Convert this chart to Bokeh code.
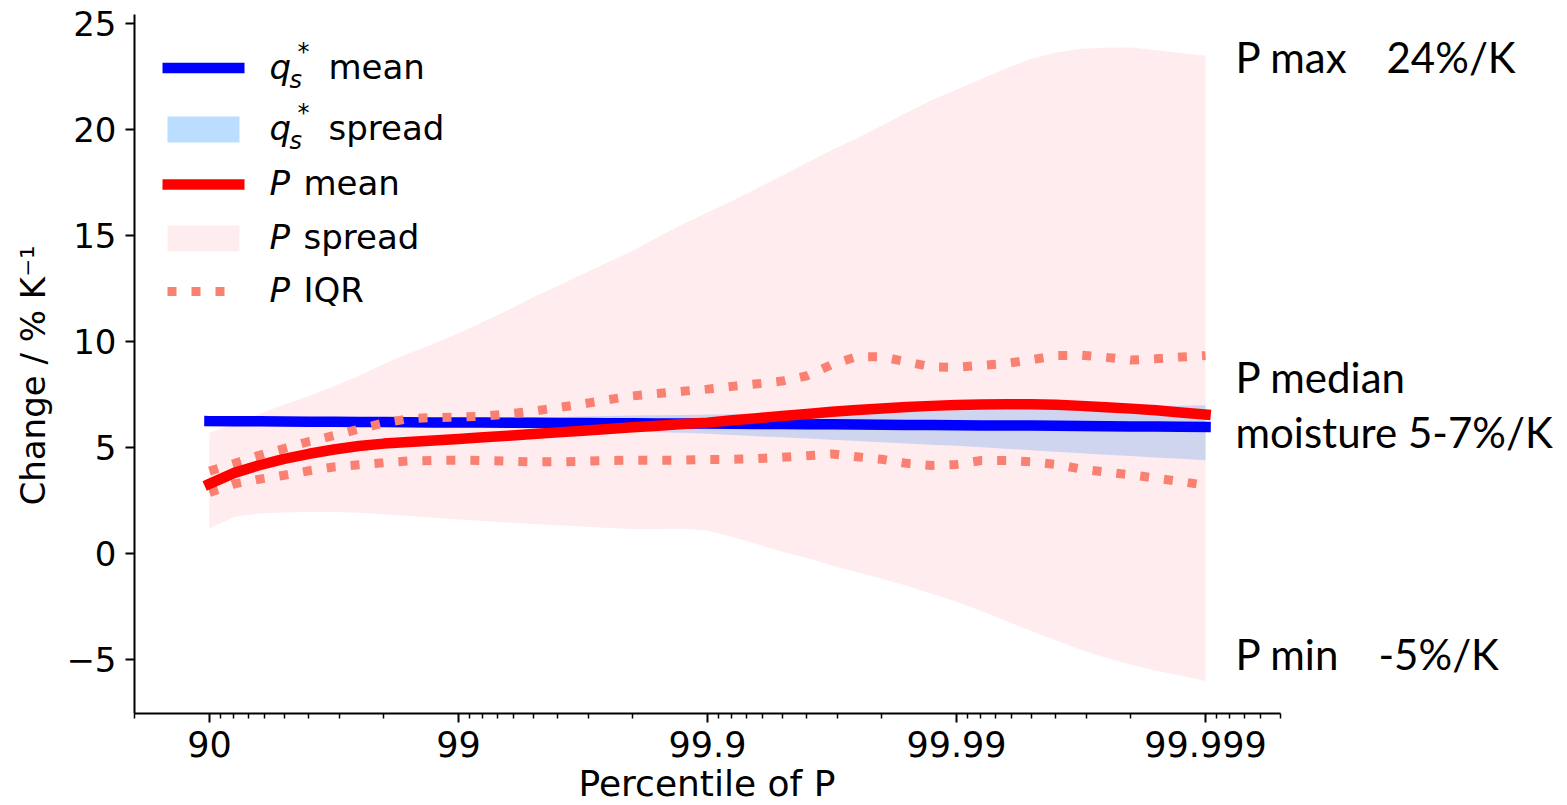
import math

from bokeh.plotting import figure
from bokeh.models import (ColumnDataSource, FixedTicker, CustomJSTickFormatter,
                          Label, Range1d, Title)
from bokeh.embed import file_html
from bokeh.resources import INLINE

# Position on the exceedance axis: -log10(1 - percentile/100)
decade = [1.0, 1.1, 1.2, 1.3, 1.4, 1.5, 1.6, 1.7, 1.8, 1.9,
          2.0, 2.1, 2.2, 2.3, 2.4, 2.5, 2.6, 2.7, 2.8, 2.9,
          3.0, 3.1, 3.2, 3.3, 3.4, 3.5, 3.6, 3.7, 3.8, 3.9,
          4.0, 4.1, 4.2, 4.3, 4.4, 4.5, 4.6, 4.7, 4.8, 4.9, 5.0]

# Saturation specific humidity change (%/K)
qs_mean = [6.26, 6.25, 6.25, 6.24, 6.23, 6.23, 6.22, 6.22, 6.21, 6.20,
           6.19, 6.19, 6.18, 6.18, 6.17, 6.17, 6.16, 6.16, 6.15, 6.15,
           6.15, 6.14, 6.13, 6.12, 6.11, 6.11, 6.10, 6.09, 6.08, 6.08,
           6.07, 6.06, 6.05, 6.05, 6.04, 6.03, 6.02, 6.01, 6.01, 6.00, 5.99]
qs_hi = [6.36, 6.36, 6.36, 6.37, 6.37, 6.38, 6.38, 6.39, 6.39, 6.40,
         6.40, 6.42, 6.43, 6.45, 6.46, 6.48, 6.50, 6.52, 6.54, 6.55,
         6.57, 6.59, 6.61, 6.62, 6.64, 6.66, 6.68, 6.70, 6.71, 6.73,
         6.75, 6.78, 6.80, 6.83, 6.85, 6.88, 6.91, 6.93, 6.96, 6.98, 7.01]
qs_lo = [6.16, 6.15, 6.14, 6.13, 6.11, 6.10, 6.08, 6.06, 6.04, 6.02,
         6.00, 5.97, 5.94, 5.91, 5.88, 5.85, 5.81, 5.78, 5.74, 5.71,
         5.67, 5.61, 5.55, 5.50, 5.44, 5.38, 5.32, 5.27, 5.21, 5.15,
         5.10, 5.03, 4.96, 4.89, 4.82, 4.75, 4.68, 4.62, 4.55, 4.49, 4.42]

# Precipitation change (%/K)
p_mean = [3.30, 3.82, 4.18, 4.48, 4.72, 4.92, 5.09, 5.20, 5.28, 5.35,
          5.42, 5.50, 5.57, 5.65, 5.73, 5.81, 5.89, 5.97, 6.04, 6.12,
          6.19, 6.30, 6.40, 6.50, 6.60, 6.70, 6.78, 6.86, 6.93, 6.98,
          7.02, 7.05, 7.06, 7.06, 7.03, 6.98, 6.92, 6.85, 6.77, 6.67, 6.57]
p_max = [5.70, 6.15, 6.60, 7.05, 7.45, 7.90, 8.40, 8.95, 9.45, 9.90,
         10.40, 10.95, 11.50, 12.10, 12.65, 13.20, 13.75, 14.30, 14.95, 15.55,
         16.10, 16.65, 17.25, 17.85, 18.45, 19.05, 19.60, 20.20, 20.80, 21.40,
         21.90, 22.40, 22.90, 23.35, 23.65, 23.82, 23.87, 23.88, 23.75, 23.62, 23.50]
p_min = [1.20, 1.75, 1.90, 1.95, 1.97, 1.98, 1.94, 1.87, 1.79, 1.70,
         1.62, 1.55, 1.48, 1.41, 1.35, 1.29, 1.22, 1.17, 1.17, 1.18,
         1.10, 0.80, 0.45, 0.10, -0.20, -0.55, -0.85, -1.17, -1.50, -1.88,
         -2.26, -2.70, -3.17, -3.64, -4.08, -4.53, -4.90, -5.22, -5.50, -5.75, -6.00]
p_q75 = [3.90, 4.26, 4.65, 4.97, 5.30, 5.58, 5.88, 6.17, 6.37, 6.43,
         6.45, 6.49, 6.60, 6.73, 6.90, 7.07, 7.27, 7.45, 7.56, 7.67,
         7.77, 7.90, 8.02, 8.15, 8.40, 8.93, 9.30, 9.30, 9.06, 8.82,
         8.80, 8.89, 8.98, 9.15, 9.35, 9.37, 9.27, 9.14, 9.20, 9.28, 9.35]
p_q25 = [2.90, 3.30, 3.52, 3.71, 3.92, 4.10, 4.20, 4.30, 4.38, 4.41,
         4.42, 4.40, 4.37, 4.34, 4.34, 4.37, 4.40, 4.42, 4.42, 4.42,
         4.45, 4.46, 4.49, 4.56, 4.63, 4.71, 4.58, 4.46, 4.27, 4.17,
         4.22, 4.40, 4.40, 4.34, 4.22, 4.00, 3.86, 3.73, 3.57, 3.41, 3.24]

major_pos = [1, 2, 3, 4, 5]
major_labels = ["90", "99", "99.9", "99.99", "99.999"]
y_ticks = [-5, 0, 5, 10, 15, 20, 25]

# Axis extent: 80th to 99.9995th percentile
X_LO = -math.log10(0.2)
X_HI = -math.log10(5e-6)
Y_LO, Y_HI = -7.53, 25.44

# Geometry in pixels: the axis spans AXW px, the plotting area continues
# to the right edge so the side notes can sit in it
W, H = 1567, 805
FL, FT, AXW, FH = 134, 14, 1146, 699
FW = W - FL
X_VIEW_HI = X_LO + FW / AXW * (X_HI - X_LO)


def dx(px):
    return X_LO + (px - FL) / AXW * (X_HI - X_LO)


def dy(py):
    return Y_HI - (py - FT) / FH * (Y_HI - Y_LO)


# minor ticks: 80, 91..98, 99.1..99.8, ... on the exceedance scale
minor = [X_LO]
for d in range(1, 5):
    for k in range(1, 9):
        minor.append(-math.log10((10 - k) * 10.0 ** -(d + 1)))
for k in range(1, 6):
    minor.append(-math.log10((10 - k) * 1e-6))

src = ColumnDataSource(dict(x=decade, qm=qs_mean, qh=qs_hi, ql=qs_lo,
                            pm=p_mean, ph=p_max, pl=p_min,
                            p75=p_q75, p25=p_q25))

p = figure(width=W, height=H,
           min_border_left=FL, min_border_right=0,
           min_border_top=FT, min_border_bottom=H - FT - FH,
           x_range=Range1d(X_LO, X_VIEW_HI), y_range=Range1d(Y_LO, Y_HI),
           output_backend="svg", toolbar_location=None)
p.xgrid.visible = False
p.ygrid.visible = False
p.outline_line_color = None
p.background_fill_color = "white"
p.border_fill_color = "white"

BLUE_BAND = "dodgerblue"
PINK_BAND = "pink"
IQR_COL = "salmon"
IQR_DASH = "9 15"

p.varea(x="x", y1="ql", y2="qh", source=src, fill_color=BLUE_BAND, fill_alpha=0.3)
p.varea(x="x", y1="pl", y2="ph", source=src, fill_color=PINK_BAND, fill_alpha=0.3)
p.line("x", "qm", source=src, line_color="blue", line_width=10.5,
       line_cap="square", line_join="round")
p.line("x", "p75", source=src, line_color=IQR_COL, line_width=9,
       line_dash=IQR_DASH, line_join="round")
p.line("x", "p25", source=src, line_color=IQR_COL, line_width=9,
       line_dash=IQR_DASH, line_join="round")
p.line("x", "pm", source=src, line_color="red", line_width=10.5,
       line_cap="square", line_join="round")

# axes
FONT = "DejaVu Sans"
FS = "34px"
for ax in (p.xaxis[0], p.yaxis[0]):
    ax.axis_line_width = 2
    ax.axis_line_color = "black"
    ax.major_tick_line_width = 2
    ax.major_tick_line_color = "black"
    ax.major_tick_in = 0
    ax.major_tick_out = 9
    ax.major_label_text_font = FONT
    ax.major_label_text_font_size = FS
    ax.major_label_text_color = "black"

p.xaxis.bounds = (X_LO, X_HI)
p.xaxis.ticker = FixedTicker(ticks=major_pos, minor_ticks=minor)
p.xaxis.formatter = CustomJSTickFormatter(args=dict(labels=major_labels),
                                          code="return labels[Math.round(tick) - 1];")
p.xaxis.minor_tick_in = 0
p.xaxis.minor_tick_out = 5
p.xaxis.minor_tick_line_width = 1.5
p.xaxis.minor_tick_line_color = "black"
p.xaxis.major_label_standoff = 8
p.xaxis.major_label_text_font_size = "35px"

p.yaxis.ticker = FixedTicker(ticks=y_ticks)
p.yaxis.formatter = CustomJSTickFormatter(
    code="return tick < 0 ? '\u2212' + Math.abs(tick) : String(tick);")
p.yaxis.minor_tick_line_color = None
p.yaxis.major_label_standoff = 9

# axis titles
p.add_layout(Title(text="Change / % K\u207b\u00b9", align="left", offset=208,
                   vertical_align="middle", standoff=20,
                   text_font=FONT, text_font_size=FS, text_font_style="normal",
                   text_color="black"), "left")
p.add_layout(Title(text="Percentile of P", align="left", offset=444,
                   standoff=2, text_font=FONT, text_font_size="36px",
                   text_font_style="normal", text_color="black"), "below")


def text(px, py, s, size=34, font=FONT, style="normal", lift=0.37):
    # py is the wanted baseline in pixels
    p.add_layout(Label(x=dx(px), y=dy(py - lift * size), text=s, text_font=font,
                       text_font_size=f"{size}px", text_font_style=style,
                       text_align="left", text_baseline="alphabetic",
                       text_color="black"))


# legend
rows = [67.5, 129, 184, 238, 291]
p.line([dx(162), dx(244)], [dy(rows[0])] * 2, line_color="blue", line_width=10.5)
p.quad(left=[dx(167)], right=[dx(239)], top=[dy(rows[1] - 13)], bottom=[dy(rows[1] + 13)],
       fill_color=BLUE_BAND, fill_alpha=0.3, line_color=None)
p.line([dx(162), dx(244)], [dy(rows[2])] * 2, line_color="red", line_width=10.5)
p.quad(left=[dx(167)], right=[dx(239)], top=[dy(rows[3] - 13)], bottom=[dy(rows[3] + 13)],
       fill_color=PINK_BAND, fill_alpha=0.3, line_color=None)
p.line([dx(167), dx(239)], [dy(rows[4])] * 2, line_color=IQR_COL, line_width=9,
       line_dash=IQR_DASH)

for i, word in ((0, "mean"), (1, "spread")):
    base = rows[i] + 11.5
    text(269, base, "q", style="italic")
    text(289, base + 9, "s", size=24, style="italic")
    text(297, base - 19, "*", size=24)
    text(328, base, word)
for i, word in ((2, "mean"), (3, "spread"), (4, "IQR")):
    base = rows[i] + 11.5
    text(269, base, "P", style="italic")
    text(303, base, word)

# notes on the right
AF = "Lato"
text(1235, 75, "P max", size=42, font=AF, lift=0.43)
text(1386, 75, "24%/K", size=42, font=AF, lift=0.43)
text(1235, 395, "P median", size=42, font=AF, lift=0.43)
text(1235, 450, "moisture 5-7%/K", size=42, font=AF, lift=0.43)
text(1235, 672, "P min", size=42, font=AF, lift=0.43)
text(1378, 672, "-5%/K", size=42, font=AF, lift=0.43)

open("out.html", "w").write(file_html(p, INLINE))
